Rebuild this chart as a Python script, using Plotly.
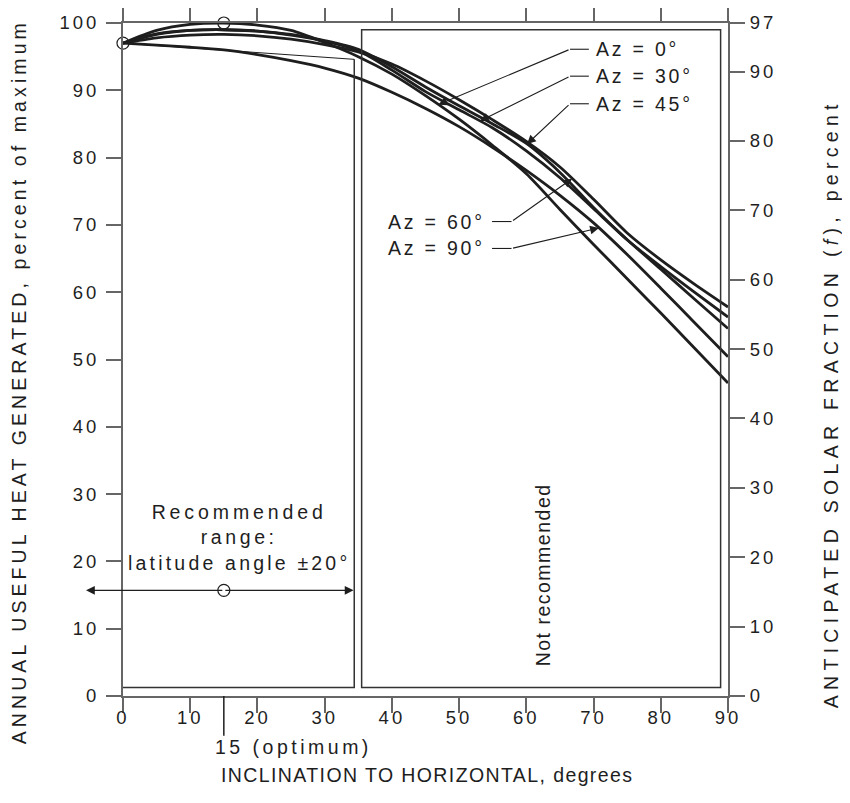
import numpy as np
import plotly.graph_objects as go

# inclination to horizontal, degrees
incl = [0, 5, 10, 15, 20, 25, 30, 35, 40, 45, 50, 55, 60, 65, 70, 75, 80, 85, 90]

# annual useful heat generated, percent of maximum, one list per azimuth
az_0 = [97, 98.9, 99.8, 100, 99.7, 98.9, 97.1, 95.0, 92.4, 89.2, 85.7, 81.8, 77.6, 72.3, 67.1, 62.0, 56.9, 51.7, 46.5]
az_30 = [97, 98.3, 98.9, 99.0, 98.8, 98.2, 97.3, 95.9, 93.0, 89.8, 87.1, 84.4, 81.0, 77.0, 72.4, 67.8, 63.4, 59.0, 54.6]
az_45 = [97, 98.4, 98.9, 99.0, 98.8, 98.3, 97.4, 96.1, 93.5, 90.5, 87.7, 85.0, 82.1, 77.8, 72.6, 67.8, 63.8, 60.0, 56.3]
az_60 = [97, 97.8, 98.2, 98.3, 98.1, 97.6, 96.8, 95.7, 93.9, 91.4, 88.6, 85.6, 82.4, 78.6, 73.8, 68.8, 64.8, 61.2, 57.8]
az_90 = [97, 96.7, 96.4, 96.0, 95.3, 94.4, 93.3, 91.8, 89.7, 87.3, 84.6, 81.5, 78.1, 74.4, 70.3, 65.6, 60.6, 55.5, 50.4]

curves = [("Az = 0°", az_0), ("Az = 30°", az_30), ("Az = 45°", az_45),
          ("Az = 60°", az_60), ("Az = 90°", az_90)]

x_ticks = list(range(0, 91, 10))
left_ticks = list(range(0, 101, 10))
right_ticks = list(range(0, 91, 10)) + [97]

optimum = 15
start_pt = (0, 97)
rec_y = 15.7
rec_left, rec_right = -5.5, 34.3

INK = "#1e1e1e"
AXC = "#666666"
FONT = "Liberation Sans, Arial, sans-serif"


def tracked(s, ls):
    # the original lettering is widely spaced
    return f'<span style="letter-spacing:{ls}px">{s}</span>'


fig = go.Figure()

for name, vals in curves:
    fig.add_trace(go.Scatter(x=incl, y=vals, mode="lines", name=name,
                             line=dict(color=INK, width=2.8, shape="spline", smoothing=0.8),
                             hoverinfo="skip"))

# open circles at start and optimum
fig.add_trace(go.Scatter(x=[start_pt[0], optimum], y=[start_pt[1], 100], mode="markers",
                         marker=dict(symbol="circle-open", size=12, color=INK, line=dict(width=1.2)),
                         cliponaxis=False, hoverinfo="skip"))

# invisible trace to carry the right axis
fig.add_trace(go.Scatter(x=[0, 90], y=[0, 97], yaxis="y2", mode="lines",
                         line=dict(width=0), opacity=0, hoverinfo="skip"))

# boxes
box = dict(color="#333333", width=1.5)
fig.add_shape(type="rect", x0=35.5, x1=88.9, y0=1.25, y1=99.0, line=box)
fig.add_shape(type="path", path="M 34.4,94.6 L 34.4,1.25 L 0,1.25", line=box)
fig.add_shape(type="line", x0=0, y0=97, x1=34.4, y1=94.6, line=dict(color=INK, width=1))

# leader lines to the curves
leaders = [
    # name, curve, label x, label y, elbow x, tip x, text on right side
    ("Az = 0°", az_0, 70.0, 96.1, 66.5, 46.9, True),
    ("Az = 30°", az_30, 70.0, 92.1, 66.5, 53.1, True),
    ("Az = 45°", az_45, 70.0, 88.0, 66.5, 60.1, True),
    ("Az = 60°", az_60, 54.2, 70.5, 57.8, 66.8, False),
    ("Az = 90°", az_90, 54.2, 66.5, 57.8, 70.8, False),
]
for name, vals, lx, ly, ex, tx, right in leaders:
    ty = float(np.interp(tx, incl, vals))
    hx = lx - 0.7 if right else lx + 0.7
    fig.add_shape(type="line", x0=ex, y0=ly, x1=hx, y1=ly, line=dict(color=INK, width=1.1))
    fig.add_annotation(x=tx, y=ty, ax=ex, ay=ly, axref="x", ayref="y", text="",
                       showarrow=True, arrowhead=2, arrowsize=1.6, arrowwidth=1.1,
                       arrowcolor=INK, standoff=0)
    fig.add_annotation(x=lx, y=ly, text=tracked(name, 2.8), showarrow=False,
                       xanchor="left" if right else "right", yanchor="middle",
                       font=dict(size=19.5, color=INK))

# recommended range double arrow
for end in (rec_left, rec_right):
    fig.add_annotation(x=end, y=rec_y, ax=optimum, ay=rec_y, axref="x", ayref="y", text="",
                       showarrow=True, arrowhead=2, arrowsize=1.6, arrowwidth=1.1,
                       arrowcolor=INK, standoff=0)
fig.add_trace(go.Scatter(x=[optimum], y=[rec_y], mode="markers",
                         marker=dict(symbol="circle", size=12, color="white",
                                     line=dict(color=INK, width=1.2)),
                         cliponaxis=False, hoverinfo="skip"))

rec_text = "<br>".join([tracked("Recommended", 3.9), tracked("range:", 3.6),
                        tracked("latitude angle ±20°", 3.2)])
fig.add_annotation(x=17.3, y=23.6, text=rec_text, showarrow=False,
                   font=dict(size=19.5, color=INK), align="center",
                   xanchor="center", yanchor="middle")
fig.add_annotation(x=62.4, y=18, text=tracked("Not recommended", 1.5), textangle=-90,
                   showarrow=False, font=dict(size=19.5, color=INK),
                   xanchor="center", yanchor="middle")

# optimum tick below the x axis, label starts just left of it
fig.add_shape(type="line", x0=optimum, x1=optimum, xref="x", y0=0, y1=-0.059, yref="paper",
              line=dict(color=INK, width=1.5))
fig.add_annotation(x=13.45, xref="x", y=-0.0757, yref="paper",
                   text=tracked("15 (optimum)", 3.5),
                   showarrow=False, font=dict(size=19.5, color=INK),
                   xanchor="left", yanchor="middle")

# axis titles
fig.add_annotation(x=0.503, y=-0.1173, xref="paper", yref="paper",
                   text=tracked("INCLINATION TO HORIZONTAL, degrees", 1.4), showarrow=False,
                   font=dict(size=19.5, color=INK), xanchor="center", yanchor="middle")
fig.add_annotation(x=-0.1726, y=0.467, xref="paper", yref="paper", textangle=-90,
                   text=tracked("ANNUAL USEFUL HEAT GENERATED, percent of maximum", 4.1),
                   showarrow=False, font=dict(size=19.5, color=INK),
                   xanchor="center", yanchor="middle")
fig.add_annotation(x=1.1705, y=0.4337, xref="paper", yref="paper", textangle=-90,
                   text=tracked("ANTICIPATED SOLAR FRACTION (<i>f</i>), percent", 5.3),
                   showarrow=False, font=dict(size=19.5, color=INK),
                   xanchor="center", yanchor="middle")

axis_common = dict(ticks="outside", ticklen=15, tickwidth=1.5, tickcolor=AXC,
                   showline=True, linecolor=AXC, linewidth=2, showgrid=False,
                   zeroline=False, automargin=False, tickfont=dict(size=18.5, color=INK))

# the page adds an 8 px body margin, so the figure is 8 px smaller and margins shifted
fig.update_layout(
    width=842, height=787,
    margin=dict(l=114.5, r=122, t=14.7, b=99),
    paper_bgcolor="white", plot_bgcolor="white",
    showlegend=False,
    font=dict(family=FONT, size=19, color=INK),
    xaxis=dict(range=[0, 90], tickvals=x_ticks, ticktext=[tracked(v, 3) for v in x_ticks],
               mirror="ticks", ticklabelstandoff=-11, **axis_common),
    yaxis=dict(range=[0, 100], tickvals=left_ticks, ticktext=[tracked(v, 3) for v in left_ticks],
               ticklabelstandoff=3, **axis_common),
    yaxis2=dict(range=[0, 97], tickvals=right_ticks, ticktext=[tracked(v, 3) for v in right_ticks],
                overlaying="y", side="right", ticklabelstandoff=1, **axis_common),
)

fig.write_html("out.html")
